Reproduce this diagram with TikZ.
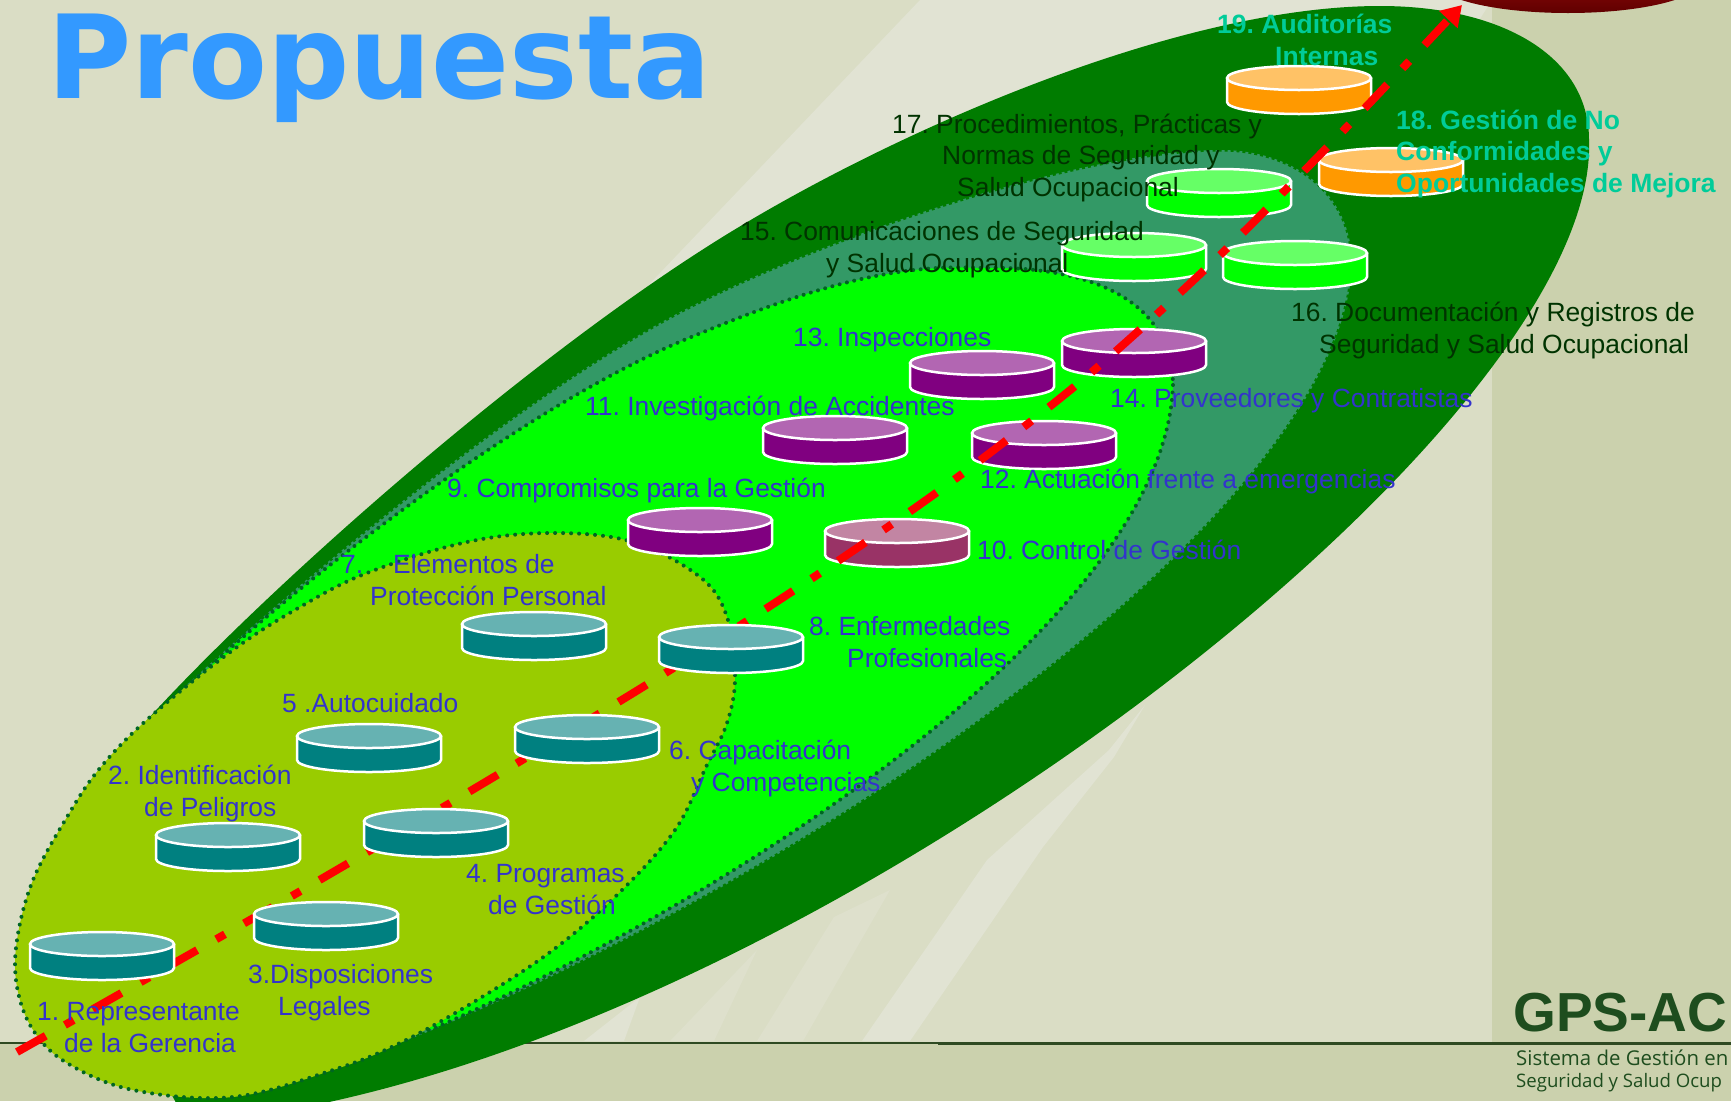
\documentclass[tikz,border=0pt]{standalone}
\usepackage{fontspec}
\setmainfont{Liberation Sans}
\newfontfamily\titlefont{DejaVu Sans}
\newfontfamily\logofont{Open Sans}
\usetikzlibrary{arrows.meta}
\definecolor{bgmain}{HTML}{DADDC5}
\definecolor{bgdark}{HTML}{CBD1AD}
\definecolor{bglight}{HTML}{E1E3D3}
\definecolor{bglighter}{HTML}{DEE0CC}
\definecolor{rule}{HTML}{2F4A22}
\definecolor{outerg}{HTML}{007C00}
\definecolor{midg}{HTML}{339966}
\definecolor{brightg}{HTML}{00FF00}
\definecolor{yellowg}{HTML}{99CC00}
\definecolor{dotg}{HTML}{006622}
\definecolor{tealb}{HTML}{008080}\definecolor{tealt}{HTML}{66B2B2}
\definecolor{purb}{HTML}{800080}\definecolor{purt}{HTML}{B266B2}
\definecolor{plumb}{HTML}{993366}\definecolor{plumt}{HTML}{C285A3}
\definecolor{greenb}{HTML}{00FF00}\definecolor{greent}{HTML}{66FF66}
\definecolor{orab}{HTML}{FF9900}\definecolor{orat}{HTML}{FFC266}
\definecolor{lblblue}{HTML}{3333CC}
\definecolor{lbldark}{HTML}{003300}
\definecolor{lblteal}{HTML}{00CC99}
\definecolor{logog}{HTML}{1E4D1E}
\definecolor{titleblue}{HTML}{3399FF}
\definecolor{marT}{HTML}{B01010}
\definecolor{marB}{HTML}{600000}
\tikzset{
  lbl/.style={font=\fontsize{26.4}{31.5}\selectfont, align=left, inner sep=0pt, anchor=base west, text=lblblue},
  lbldk/.style={lbl, text=lbldark},
  lblbd/.style={font=\fontsize{26.5}{31.5}\selectfont\bfseries, align=left, inner sep=0pt, anchor=base west, text=lblteal},
  streak/.style={fill=bglight, draw=none},
  streakb/.style={fill=bglighter, draw=none},
}
% x, y of top ellipse centre, body colour, top colour
\newcommand\disc[4]{%
  \draw[white, line width=2.5pt, line join=round, fill=#3]
    ({#1-72},#2) -- ({#1-72},{#2+24})
    arc[start angle=180, end angle=0, x radius=72, y radius=12]
    -- ({#1+72},#2) -- cycle;
  \draw[white, line width=2.5pt, fill=#4] (#1,#2) ellipse[x radius=72, y radius=12];
}
\frenchspacing
\begin{document}
\begin{tikzpicture}[x=1pt,y=-1pt]
\useasboundingbox (0,0) rectangle (1731,1101);
\clip (0,0) rectangle (1731,1101);
% background
\fill[bgmain] (0,0) rectangle (1731,1101);
\fill[bgdark] (1492,0) rectangle (1731,1101);
\fill[bgdark] (0,1043) rectangle (1731,1101);
\fill[streak] (920,0) -- (1492,0) -- (1300,300) -- (600,480) -- (520,420) -- cycle;
\fill[streak] (584,1041) -- (640,997) -- (624,1041) -- cycle;
\fill[streakb] (670,1041) -- (757,950) -- (714,1041) -- cycle;
\fill[streakb] (757,1041) -- (834,917) -- (890,890) -- (803,1041) -- cycle;
\fill[streak] (862,1041) -- (987,860) -- (1109,750) -- (1145,705) -- (1114,757) -- (1043,847) -- (910,1041) -- cycle;
\draw[rule, line width=2.5pt] (0,1043) -- (938,1043);
\draw[rule, line width=3pt] (938,1043) -- (1731,1043);
% maroon shape top right
\shade[top color=marT, bottom color=marB] (1568,-20) ellipse[x radius=134, y radius=33];
% nested fields
\fill[outerg] (1589,140)
  .. controls (1600,420) and (860,1000) .. (300,1108)
  -- (180,1110) -- (120,1000) -- (147,720)
  .. controls (270,585) and (530,355) .. (729,233)
  .. controls (899,129) and (1180,6) .. (1380,6)
  .. controls (1500,6) and (1589,55) .. (1589,140) -- cycle;
\path[fill=midg, draw=outerg, line width=3pt, dash pattern=on 3pt off 3pt] (1352,265)
  .. controls (1340,520) and (790,890) .. (400,1043)
  -- (130,1000) -- (167,703)
  .. controls (300,580) and (520,395) .. (684,310)
  .. controls (830,235) and (1080,150) .. (1221,150)
  .. controls (1290,150) and (1352,190) .. (1352,265) -- cycle;
\path[fill=brightg, draw=dotg, line width=4pt, line cap=round, dash pattern=on 0pt off 7.5pt] (1173,385)
  .. controls (1165,620) and (730,900) .. (430,1030)
  -- (130,1000) -- (177,697)
  .. controls (310,570) and (530,405) .. (684,340)
  .. controls (780,300) and (880,262) .. (980,268)
  .. controls (1090,265) and (1172,300) .. (1173,385) -- cycle;
\path[fill=yellowg, draw=dotg, line width=4pt, line cap=round, dash pattern=on 0pt off 8pt] plot[smooth cycle, tension=0.6] coordinates {
 (553,533)(633,542)(700,577)(727,617)(735,677)(727,723)(706,767)(675,830)(619,893)(553,950)
 (477,1000)(400,1043)(333,1070)(233,1097)(133,1090)(67,1063)(33,1030)(17,987)(17,940)(33,880)
 (67,817)(100,768)(150,717)(233,650)(300,607)(367,573)(467,542)};
% discs under the line
\disc{700}{520}{purb}{purt}
\disc{835}{428}{purb}{purt}
\disc{982}{363}{purb}{purt}
\disc{1044}{433}{purb}{purt}
\disc{1134}{341}{purb}{purt}
\disc{897}{531}{plumb}{plumt}
\disc{1134}{245}{greenb}{greent}
\disc{1295}{253}{greenb}{greent}
\disc{1219}{181}{greenb}{greent}
\disc{1391}{160}{orab}{orat}
\disc{1299}{78}{orab}{orat}
% red progress line
\draw[red, line width=8pt, dash pattern=on 33pt off 22pt on 10pt off 22pt, -{Triangle[length=20pt,width=24pt]}]
  plot[smooth, tension=0.5] coordinates {(17,1052)(323,878)(625,698)(802,585)(947,485)(1086,377)(1217,258)(1341,133)(1462,5)};
% discs over the line
\disc{102}{944}{tealb}{tealt}
\disc{326}{914}{tealb}{tealt}
\disc{228}{835}{tealb}{tealt}
\disc{436}{821}{tealb}{tealt}
\disc{369}{736}{tealb}{tealt}
\disc{587}{727}{tealb}{tealt}
\disc{534}{624}{tealb}{tealt}
\disc{731}{637}{tealb}{tealt}
% labels
\node[lbl] (l1) at (37,1052) {1. Representante\\\hspace*{27pt}de la Gerencia};
\node[lbl] (l2) at (108,816) {2. Identificación\\\hspace*{36pt}de Peligros};
\node[lbl] (l3) at (248,1015) {3.Disposiciones\\\hspace*{30pt}Legales};
\node[lbl] (l4) at (466,914) {4. Programas\\\hspace*{22pt}de Gestión};
\node[lbl] (l5) at (282,712) {5 .Autocuidado};
\node[lbl] (l6) at (669,791) {6. Capacitación\\\hspace*{22pt}y Competencias};
\node[lbl] (l7) at (341,605) {7.\hspace*{30pt}Elementos de\\\hspace*{29pt}Protección Personal};
\node[lbl] (l8) at (809,667) {8. Enfermedades\\\hspace*{38pt}Profesionales};
\node[lbl] (l9) at (447,497) {9. Compromisos para la Gestión};
\node[lbl] (l10) at (977,559) {10. Control de Gestión};
\node[lbl] (l11) at (585,415) {11. Investigación de Accidentes};
\node[lbl] (l12) at (980,488) {12. Actuación frente a emergencias};
\node[lbl] (l13) at (793,346) {13. Inspecciones};
\node[lbl] (l14) at (1110,407) {14. Proveedores y Contratistas};
\node[lbldk] (l15) at (740,272) {15. Comunicaciones de Seguridad\\\hspace*{86pt}y Salud Ocupacional};
\node[lbldk] (l16) at (1291,353) {16. Documentación y Registros de\\\hspace*{28pt}Seguridad y Salud Ocupacional};
\node[lbldk] (l17) at (892,196) {17. Procedimientos, Prácticas y\\\hspace*{50pt}Normas de Seguridad y\\\hspace*{65pt}Salud Ocupacional};
\node[lblbd] (l18) at (1396,192) {18. Gestión de No\\Conformidades y\\Oportunidades de Mejora};
\node[lblbd] (l19) at (1217,65) {19. Auditorías\\\hspace*{58pt}Internas};
% title
\node[inner sep=0pt, anchor=base west, xscale=0.992, text=titleblue, font=\titlefont\bfseries\fontsize{116}{116}\selectfont] (title) at (47,98) {Propuesta};
% logo
\node[inner sep=0pt, anchor=base west, text=logog, font=\bfseries\fontsize{55}{55}\selectfont] (logo) at (1513,1031) {GPS-AC};
\node[inner sep=0pt, anchor=base west, text=logog, align=left, font=\logofont\fontsize{20.4}{21.5}\selectfont] (logotext) at (1516,1087) {Sistema de Gestión en\\\fontsize{18.6}{21.5}\selectfont Seguridad y Salud Ocup};
\end{tikzpicture}
\end{document}
